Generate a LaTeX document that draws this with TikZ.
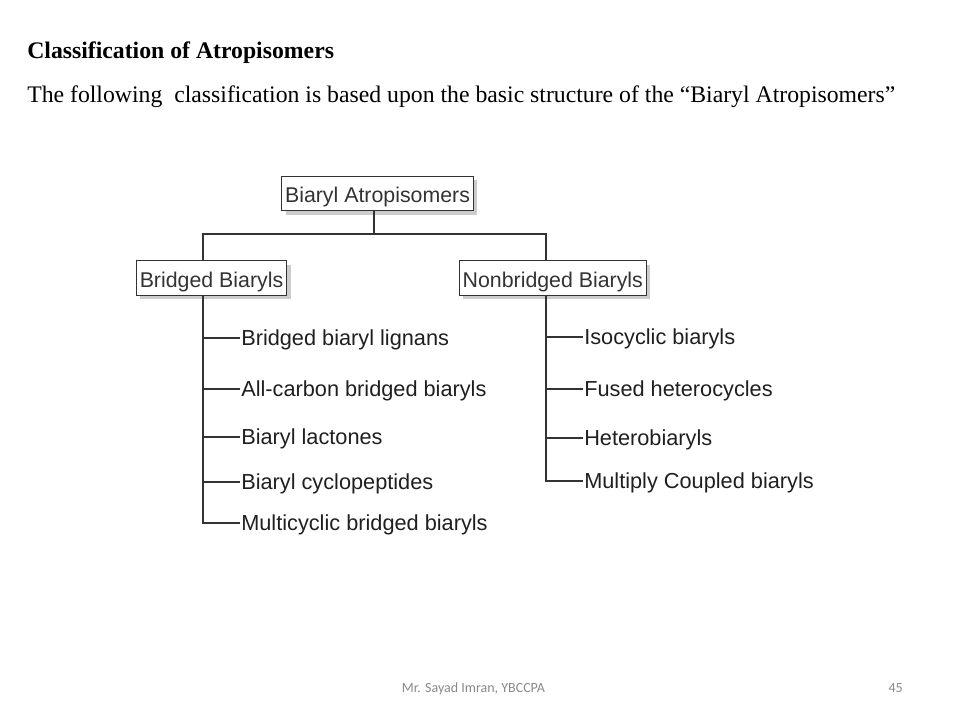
\documentclass[tikz,border=0pt]{standalone}
\usepackage{fontspec}
\usepackage{xcolor}
\usepackage{tikz}
\usetikzlibrary{shadows}
\setmainfont{Liberation Serif}
\newfontfamily\arialfont{Liberation Sans}
\newfontfamily\footfont{Carlito}
\definecolor{linegray}{RGB}{51,51,51}
\definecolor{footgray}{RGB}{137,137,137}

\tikzset{
  catbox/.style={draw=linegray, fill=white, line width=0.9pt, font=\arialfont\fontsize{16}{19}\selectfont,
    text=linegray, inner xsep=2.5pt, minimum height=26pt, text height=14pt, text depth=0pt,
    drop shadow={shadow xshift=3pt, shadow yshift=-3pt, fill=black!20, opacity=1}},
  leaf/.style={anchor=west, font=\arialfont\fontsize{16.3}{19}\selectfont, text=black!88,
    inner xsep=0.75pt, inner ysep=0pt, text height=11.6pt, text depth=0pt},
  link/.style={draw=linegray, line width=1pt}
}

\begin{document}
\begin{tikzpicture}[x=0.75pt, y=-0.75pt]
\useasboundingbox (0,0) rectangle (960,720);

% heading
\node (head) [anchor=base west, inner sep=0pt, font=\fontsize{17.8}{22}\selectfont\bfseries] at (27,59) {Classification of Atropisomers};
\node (intro) [anchor=base west, inner sep=0pt, font=\fontsize{17.8}{22}\selectfont] at (27,103) {The following\ \ classification is based upon the basic structure of the ``Biaryl Atropisomers''};

% boxes
\node (top) [catbox] at (377.5,193.5) {Biaryl Atropisomers};
\node (bb) [catbox] at (211.5,278) {Bridged Biaryls};
\node (nb) [catbox] at (552.8,278) {Nonbridged Biaryls};

\coordinate (jT) at (374,234);
\coordinate (jL) at (203,234);
\coordinate (jR) at (546,234);

% leaves
\node (l1) [leaf] at (240,338) {Bridged biaryl lignans};
\node (l2) [leaf] at (240,389) {All-carbon bridged biaryls};
\node (l3) [leaf] at (240,437) {Biaryl lactones};
\node (l4) [leaf] at (240,482) {Biaryl cyclopeptides};
\node (l5) [leaf] at (240,523) {Multicyclic bridged biaryls};

\node (r1) [leaf] at (583,337) {Isocyclic biaryls};
\node (r2) [leaf] at (583,389) {Fused heterocycles};
\node (r3) [leaf] at (583,438) {Heterobiaryls};
\node (r4) [leaf] at (583,481) {Multiply Coupled biaryls};

% connectors
\draw [link] (jT |- top.south) -- (jT);
\draw [link] (jL |- bb.north) -- (jL) -- (jR) -- (jR |- nb.north);
\draw [link] (jL |- bb.south) |- (l5.west);
\foreach \i in {1,...,4}
  \draw [link] (jL |- l\i.west) -- (l\i.west);
\draw [link] (jR |- nb.south) |- (r4.west);
\foreach \i in {1,...,3}
  \draw [link] (jR |- r\i.west) -- (r\i.west);

% footer
\node (foot) [anchor=base, inner sep=0pt, text=footgray, font=\footfont\fontsize{10.5}{12}\selectfont] at (473.5,692) {Mr. Sayad Imran, YBCCPA};
\node (page) [anchor=base east, inner sep=0pt, text=footgray, font=\footfont\fontsize{10.5}{12}\selectfont] at (903,692) {45};
\end{tikzpicture}
\end{document}
